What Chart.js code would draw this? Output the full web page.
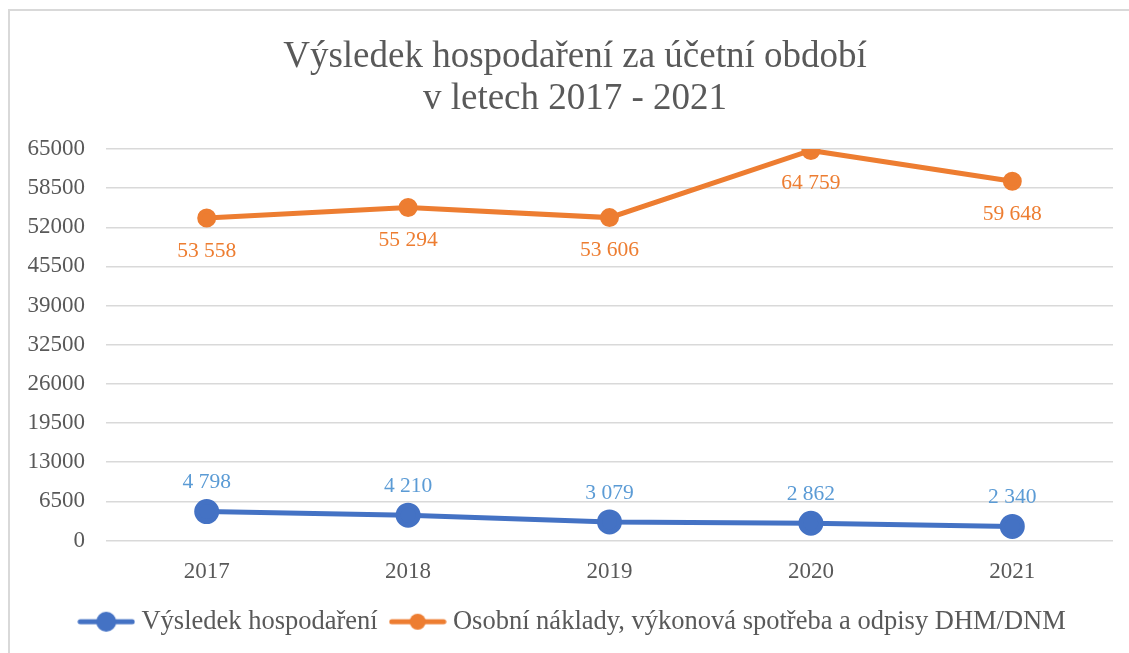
<!DOCTYPE html>
<html>
<head>
<meta charset="utf-8">
<script src="https://cdn.jsdelivr.net/npm/chart.js@4"></script>
<style>
  html, body { margin: 0; padding: 0; background: #fff; }
  #frame { position: absolute; left: 8px; top: 9px; width: 1200px; height: 700px;
           border-left: 2px solid #d9d9d9; border-top: 2px solid #d9d9d9; }
  #wrap { position: absolute; left: 0; top: 0; width: 1129px; height: 653px; }
</style>
</head>
<body>
<div id="frame"></div>
<div id="wrap"><canvas id="myChart" width="1129" height="653"></canvas></div>
<script>
const years = ['2017', '2018', '2019', '2020', '2021'];
const vysledek = [4798, 4210, 3079, 2862, 2340];
const naklady = [53558, 55294, 53606, 64759, 59648];
const yTicks = [0, 6500, 13000, 19500, 26000, 32500, 39000, 45500, 52000, 58500, 65000];

const blue = '#4472C4';
const orange = '#ED7D31';
const gray = '#595959';
const serif = '"Liberation Serif", "Times New Roman", serif';

// legend symbol: line with dot in the middle
function legendIcon(color, r) {
    const c = document.createElement('canvas');
    c.width = 58; c.height = 22;
    const x = c.getContext('2d');
    x.strokeStyle = color;
    x.lineWidth = 5;
    x.lineCap = 'round';
    x.beginPath();
    x.moveTo(3, 11); x.lineTo(55, 11);
    x.stroke();
    x.fillStyle = color;
    x.beginPath();
    x.arc(29, 11, r, 0, Math.PI * 2);
    x.fill();
    return c;
}
const icons = [legendIcon(blue, 10), legendIcon(orange, 8)];

function fmt(v) {
    return String(v).replace(/\B(?=(\d{3})+(?!\d))/g, ' ');
}

// simple data labels
const labelPlugin = {
    id: 'labels',
    afterDatasetsDraw(chart) {
        const ctx = chart.ctx;
        chart.data.datasets.forEach((ds, i) => {
            const meta = chart.getDatasetMeta(i);
            ctx.save();
            ctx.font = '21.5px ' + serif;
            ctx.fillStyle = ds.labelColor;
            ctx.textAlign = 'center';
            ctx.textBaseline = 'middle';
            meta.data.forEach((pt, j) => {
                ctx.fillText(fmt(ds.data[j]), pt.x, pt.y + ds.labelOffset);
            });
            ctx.restore();
        });
    }
};

const ctx = document.getElementById('myChart').getContext('2d');
const myChart = new Chart(ctx, {
    type: 'line',
    data: {
        labels: years,
        datasets: [{
            label: 'Výsledek hospodaření',
            data: vysledek,
            borderColor: blue,
            backgroundColor: blue,
            borderWidth: 5,
            pointRadius: 10,
            pointHoverRadius: 10,
            labelColor: '#5B9BD5',
            labelOffset: -29
        }, {
            label: 'Osobní náklady, výkonová spotřeba a odpisy DHM/DNM',
            data: naklady,
            borderColor: orange,
            backgroundColor: orange,
            borderWidth: 5,
            pointRadius: 7,
            pointHoverRadius: 7,
            labelColor: orange,
            labelOffset: 33
        }]
    },
    plugins: [labelPlugin],
    options: {
        responsive: false,
        animation: false,
        layout: { padding: { left: 21, right: 0, top: 0, bottom: 8 } },
        scales: {
            x: {
                offset: true,
                grid: { display: false, drawTicks: false },
                border: { display: false },
                ticks: { color: gray, font: { family: serif, size: 23 }, padding: 18 },
                afterFit: (s) => { s.height = 50; }
            },
            y: {
                min: 0,
                max: 65000,
                afterBuildTicks: (s) => { s.ticks = yTicks.map(v => ({ value: v })); },
                grid: { color: '#d9d9d9', lineWidth: 1.5, drawTicks: false },
                border: { display: false },
                ticks: {
                    color: gray,
                    font: { family: serif, size: 23 },
                    padding: 21,
                    callback: (v) => String(v)
                },
                afterFit: (s) => { s.width = 85; }
            },
            // empty right axis, only keeps space on the right side
            yRight: {
                position: 'right',
                min: 0,
                max: 65000,
                grid: { display: false, drawTicks: false },
                border: { display: false },
                ticks: { display: false },
                afterFit: (s) => { s.width = 16; }
            }
        },
        plugins: {
            title: {
                display: true,
                text: ['Výsledek hospodaření za účetní období', 'v letech 2017 - 2021'],
                color: gray,
                font: { family: serif, size: 37, weight: 'normal', lineHeight: 1.135 },
                padding: { top: 36, bottom: 29 }
            },
            legend: {
                position: 'bottom',
                labels: {
                    usePointStyle: true,
                    pointStyleWidth: 44,
                    color: gray,
                    font: { family: serif, size: 26.5 },
                    padding: 18,
                    generateLabels: (chart) => {
                        const items = Chart.defaults.plugins.legend.labels.generateLabels(chart);
                        items.forEach((it, i) => { it.pointStyle = icons[i]; });
                        return items;
                    }
                }
            },
            tooltip: { enabled: false }
        }
    }
});
</script>
</body>
</html>
